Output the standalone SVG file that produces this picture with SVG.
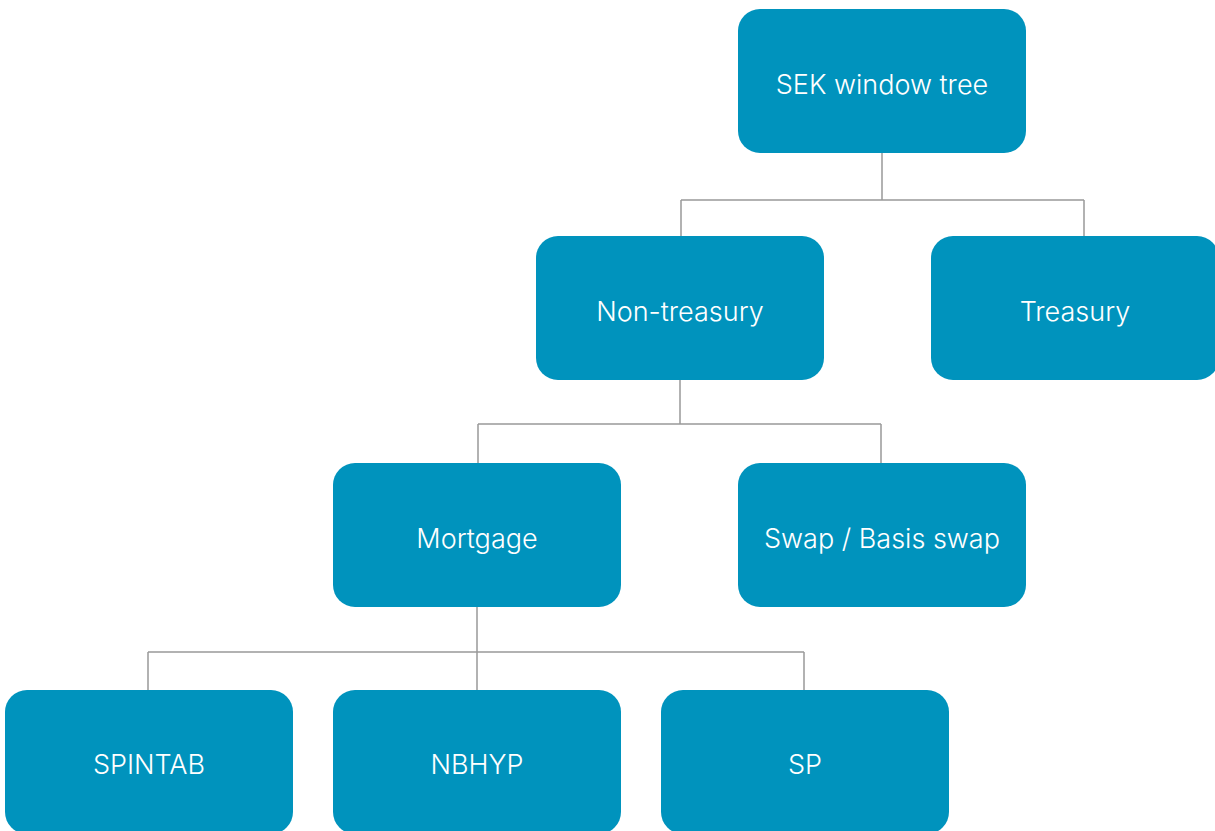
<svg xmlns="http://www.w3.org/2000/svg" width="1215" height="831" viewBox="0 0 1215 831">
<style>
.n{fill:#0093bd}
.t{fill:#ffffff;font-family:Inter,"Noto Sans",sans-serif;font-size:27px;font-weight:300;text-anchor:middle;dominant-baseline:central}
.c{fill:none;stroke:#999999;stroke-width:1.5}
</style>
<rect width="1215" height="831" fill="#ffffff"/>
<g id="connectors">
<path class="c" d="M882 153V200M681 200H1084M681 200V236M1084 200V236"/>
<path class="c" d="M680 380V424M478 424H881M478 424V463M881 424V463"/>
<path class="c" d="M477 607V652M148 652H804M148 652V690M477 652V690M804 652V690"/>
</g>
<g id="root"><rect class="n" x="738" y="9" width="288" height="144" rx="22"/><text class="t" x="882" y="84">SEK window tree</text></g>
<g id="nontreasury"><rect class="n" x="536" y="236" width="288" height="144" rx="22"/><text class="t" x="680" y="311">Non-treasury</text></g>
<g id="treasury"><rect class="n" x="931" y="236" width="288" height="144" rx="22"/><text class="t" x="1075" y="311">Treasury</text></g>
<g id="mortgage"><rect class="n" x="333" y="463" width="288" height="144" rx="22"/><text class="t" x="477" y="538">Mortgage</text></g>
<g id="swap"><rect class="n" x="738" y="463" width="288" height="144" rx="22"/><text class="t" x="882" y="538">Swap / Basis swap</text></g>
<g id="spintab"><rect class="n" x="5" y="690" width="288" height="144" rx="22"/><text class="t" x="149" y="764">SPINTAB</text></g>
<g id="nbhyp"><rect class="n" x="333" y="690" width="288" height="144" rx="22"/><text class="t" x="477" y="764">NBHYP</text></g>
<g id="sp"><rect class="n" x="661" y="690" width="288" height="144" rx="22"/><text class="t" x="805" y="764">SP</text></g>
</svg>
